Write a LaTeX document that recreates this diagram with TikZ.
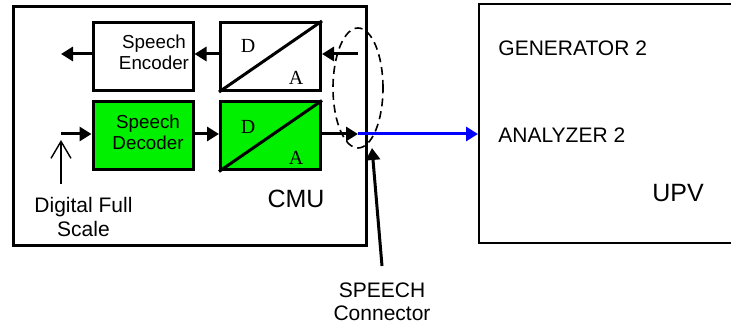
\documentclass[tikz,border=0pt]{standalone}
\usepackage{fontspec}
\setmainfont{Liberation Sans}
\newfontfamily\daserif{Liberation Serif}
\usetikzlibrary{arrows.meta,shapes.geometric}
\definecolor{CodecGreen}{HTML}{00F000}
\definecolor{LinkBlue}{HTML}{0000FF}

\begin{document}
\begin{tikzpicture}[x=0.5pt, y=-0.5pt,
    unit/.style={draw, line width=1.5pt, minimum width=50pt, minimum height=34pt, inner sep=0pt},
    codec/.style={font=\fontsize{9.4}{10.5}\selectfont, align=center, inner sep=0pt},
    da/.style={font=\daserif\fontsize{10}{12}\selectfont, inner sep=0pt},
    lbl/.style={font=\fontsize{10.5}{12}\selectfont, align=center, inner sep=0pt},
    big/.style={font=\fontsize{12.5}{15}\selectfont, inner sep=0pt},
    arr/.style={-{Triangle[length=6pt, width=7pt]}, line width=1.5pt}
  ]
    \useasboundingbox (0,0) rectangle (731,324);

    \node[draw, line width=1.5pt, minimum width=176.5pt, minimum height=119.5pt] (cmu) at (189.5,126.5) {};
    \node[draw, line width=1pt, minimum width=133pt, minimum height=119.5pt] (upv) at (612,123.5) {};

    \node[ellipse, draw, line width=0.8pt, dash pattern=on 4pt off 2.5pt, minimum width=25pt, minimum height=60pt, inner sep=0pt] (plugring) at (358,88) {};

    \node[unit] (enc) at (143,56.5) {};
    \node[unit] (adc) at (270.5,56.5) {};
    \node[unit, fill=CodecGreen] (dec) at (143,136) {};
    \node[unit, fill=CodecGreen] (dac) at (270.5,136) {};

    \node[codec] (enctxt) at (154,52) {Speech\\Encoder};
    \node[codec] (dectxt) at (148,132) {Speech\\Decoder};

    \draw[line width=1.5pt] (adc.south west) -- (adc.north east);
    \draw[line width=1.5pt] (dac.south west) -- (dac.north east);
    \node[da] (adcD) at (248,46) {D};
    \node[da] (adcA) at (296,78) {A};
    \node[da] (dacD) at (248,127) {D};
    \node[da] (dacA) at (296,158) {A};

    \coordinate (encout) at (61,54);
    \coordinate (adcin) at (358,54);
    \coordinate (decin) at (61,134);
    \coordinate (plug) at (358,134);
    \coordinate (fsbase) at (61,184);
    \coordinate (fstip) at (61,140);
    \coordinate (ptrbase) at (382,266);
    \coordinate (ptrtip) at (372,148);

    \draw[arr] (enc.west |- encout) -- (encout);
    \draw[arr] (adcin) -- (adc.east |- adcin);
    \draw[arr] (adc.west |- adcin) -- (enc.east |- adcin);
    \draw[arr] (decin) -- (dec.west |- decin);
    \draw[arr] (dec.east |- decin) -- (dac.west |- decin);
    \draw[arr] (dac.east |- decin) -- (plug);
    \draw[arr, draw=LinkBlue] (plug) -- (upv.west |- plug);
    \draw[-{Straight Barb[length=8.5pt, width=10pt]}, line width=0.7pt] (fsbase) -- (fstip);
    \draw[arr] (ptrbase) -- (ptrtip);

    \node[lbl] (fslbl) at (83.5,216.5) {Digital Full\\Scale};
    \node[big] (cmulbl) at (296,198.5) {CMU};
    \node[lbl, font=\fontsize{10.5}{11.5}\selectfont] (conlbl) at (382,301.5) {SPEECH\\Connector};
    \node[lbl, anchor=west] (genlbl) at (498,48) {GENERATOR 2};
    \node[lbl, anchor=west] (analbl) at (498,135) {ANALYZER 2};
    \node[big] (upvlbl) at (678,193) {UPV};
  \end{tikzpicture}
\end{document}
